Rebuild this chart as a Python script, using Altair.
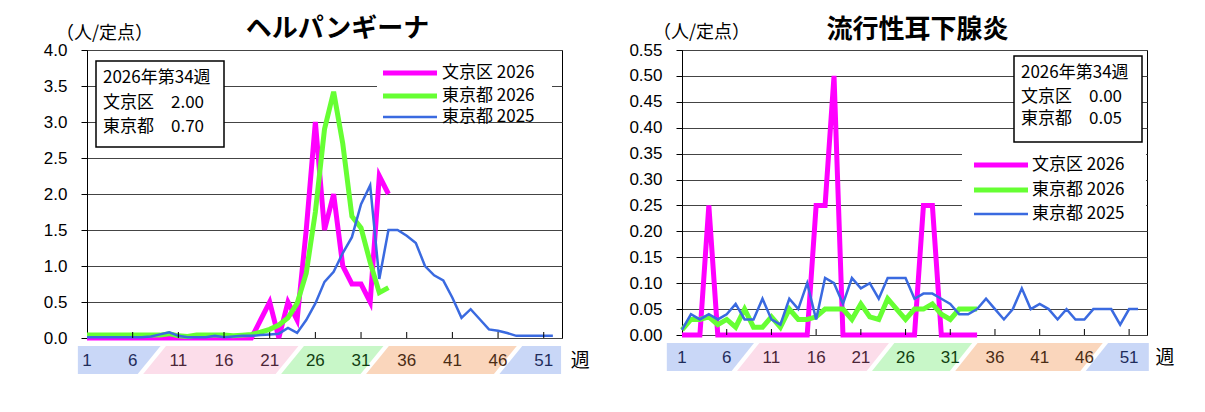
import altair as alt
import pandas as pd

# ---------------- data ----------------
WEEKS_2026 = list(range(1, 35))
WEEKS_2025 = list(range(1, 53))
SERIES = ["文京区 2026", "東京都 2026", "東京都 2025"]
SERIES_COLORS = ["#FF00FF", "#66FF33", "#3A6AE0"]
SERIES_WIDTHS = [5, 5, 2.5]

# ヘルパンギーナ
HERP_BUNKYO_2026 = [0, 0, 0, 0, 0, 0, 0, 0, 0, 0, 0, 0, 0, 0, 0, 0, 0, 0,
                    0, 0.25, 0.5, 0, 0.5, 0.25, 1.5, 3.0, 1.5, 2.0, 1.0, 0.75,
                    0.75, 0.5, 2.25, 2.0]
HERP_TOKYO_2026 = [0.04, 0.04, 0.04, 0.04, 0.04, 0.04, 0.04, 0.04, 0.04, 0.06,
                   0.03, 0.02, 0.04, 0.04, 0.04, 0.04, 0.03, 0.04, 0.05, 0.08,
                   0.12, 0.18, 0.28, 0.48, 0.90, 1.75, 2.90, 3.42, 2.70, 1.69,
                   1.53, 1.05, 0.63, 0.70]
HERP_TOKYO_2025 = [0.01, 0.01, 0.01, 0.01, 0.01, 0.01, 0.01, 0.02, 0.05, 0.08,
                   0.03, 0.01, 0.01, 0.01, 0.03, 0.01, 0.02, 0.03, 0.03, 0.04,
                   0.05, 0.06, 0.14, 0.07, 0.25, 0.48, 0.78, 0.92, 1.18, 1.40,
                   1.86, 2.12, 0.82, 1.50, 1.50, 1.42, 1.32, 1.00, 0.87, 0.80,
                   0.56, 0.28, 0.40, 0.26, 0.12, 0.10, 0.07, 0.03, 0.03, 0.03,
                   0.03, 0.03]

# 流行性耳下腺炎
MUMPS_BUNKYO_2026 = [0, 0, 0, 0.25, 0, 0, 0, 0, 0, 0, 0, 0, 0, 0, 0,
                     0.25, 0.25, 0.5, 0, 0, 0, 0, 0, 0, 0, 0, 0, 0.25, 0.25, 0,
                     0, 0, 0, 0]
MUMPS_TOKYO_2026 = [0.01, 0.03, 0.03, 0.035, 0.02, 0.03, 0.015, 0.05, 0.015, 0.015,
                    0.035, 0.015, 0.05, 0.03, 0.03, 0.035, 0.05, 0.05, 0.05, 0.03,
                    0.06, 0.035, 0.03, 0.07, 0.05, 0.03, 0.05, 0.05, 0.06, 0.04,
                    0.03, 0.05, 0.05, 0.05]
MUMPS_TOKYO_2025 = [0.01, 0.04, 0.03, 0.04, 0.03, 0.04, 0.06, 0.03, 0.03, 0.07,
                    0.03, 0.02, 0.07, 0.05, 0.10, 0.03, 0.11, 0.10, 0.06, 0.11,
                    0.09, 0.10, 0.07, 0.11, 0.11, 0.11, 0.07, 0.08, 0.08, 0.07,
                    0.06, 0.04, 0.04, 0.05, 0.07, 0.05, 0.03, 0.05, 0.09, 0.05,
                    0.06, 0.05, 0.03, 0.05, 0.03, 0.03, 0.05, 0.05, 0.05, 0.02,
                    0.05, 0.05]

CURRENT_WEEK = 34
LABEL_WEEKS = [1, 6, 11, 16, 21, 26, 31, 36, 41, 46, 51]
SEASON_BOUNDS = [8.1, 23.2, 32.5, 47.1]          # week where season band changes
SEASON_FILLS = ["#C9D7F7", "#FCDDEA", "#C8F7C8", "#FAD6BC", "#C9D7F7"]
SEASON_TEXT = ["#1F2D5C", "#4B2638", "#123F12", "#4A2C14", "#1F2D5C"]

JP = "Noto Sans CJK JP"
NUM = "Liberation Sans"


def long_df(bunkyo, tokyo26, tokyo25):
    rows = []
    for w, v in zip(WEEKS_2026, bunkyo):
        rows.append({"week": w, "value": v, "series": SERIES[0]})
    for w, v in zip(WEEKS_2026, tokyo26):
        rows.append({"week": w, "value": v, "series": SERIES[1]})
    for w, v in zip(WEEKS_2025, tokyo25):
        rows.append({"week": w, "value": v, "series": SERIES[2]})
    return pd.DataFrame(rows)


def band_df(start, end, slant=1.25, gap=0.3):
    rows = []
    n = len(SEASON_FILLS)
    for i in range(n):
        for sy, sgn in ((0, -1), (1, 1)):
            xl = start if i == 0 else SEASON_BOUNDS[i - 1] + sgn * slant + gap
            xr = end if i == n - 1 else SEASON_BOUNDS[i] + sgn * slant - gap
            rows.append({"band": i, "sy": sy, "xl": xl, "xr": xr, "fill": SEASON_FILLS[i]})
    return pd.DataFrame(rows)


def label_df():
    rows = []
    for w in LABEL_WEEKS:
        idx = sum(1 for b in SEASON_BOUNDS if b < w)
        rows.append({"week": w, "label": str(w), "tc": SEASON_TEXT[idx]})
    return pd.DataFrame(rows)


def panel(df, c):
    W, H = c["W"], c["H"]
    xs = alt.Scale(domain=[1, 53], nice=False, zero=False)
    ys = alt.Scale(domain=[0, c["ymax"]], nice=False, zero=True)
    color = alt.Color("series:N", scale=alt.Scale(domain=SERIES, range=SERIES_COLORS), legend=None)
    yaxis = alt.Axis(values=c["yticks"], format=c["yfmt"], title="（人/定点）", titleAngle=0,
                     titleAlign="center", titleBaseline="middle", titleX=c["unitx"],
                     titleY=c["unity"], titleFont=JP, titleFontSize=18,
                     titleFontWeight="normal", titleColor="black")
    layers = []
    for s, w in zip(SERIES, SERIES_WIDTHS):
        layers.append(
            alt.Chart(df).transform_filter(alt.datum.series == s).mark_line(strokeWidth=w).encode(
                x=alt.X("week:Q", scale=xs, axis=None),
                y=alt.Y("value:Q", scale=ys, axis=yaxis),
                color=color))

    ticks = alt.Chart(pd.DataFrame({"week": LABEL_WEEKS[1:]})).mark_rule(
        color="black", strokeWidth=1).encode(
        x=alt.X("week:Q", scale=xs, axis=None), y=alt.value(H), y2=alt.value(H - 6))

    one = pd.DataFrame({"k": [0]})

    # legend (white panel + line samples + labels)
    lb = c["legbox"]
    leg_layers = [alt.Chart(one).mark_rect(fill="white", strokeWidth=0).encode(
        x=alt.value(lb[0]), x2=alt.value(lb[2]), y=alt.value(lb[1]), y2=alt.value(lb[3]))]
    lx0, lx1, ltx = c["legx"]
    for i, (s, col, w) in enumerate(zip(SERIES, SERIES_COLORS, SERIES_WIDTHS)):
        yy = c["legy"][i]
        leg_layers.append(alt.Chart(one).mark_rule(color=col, strokeWidth=w).encode(
            x=alt.value(lx0), x2=alt.value(lx1), y=alt.value(yy)))
        leg_layers.append(alt.Chart(one).mark_text(text=s, align="left", baseline="middle",
                                                   font=JP, fontSize=17, color="black").encode(
            x=alt.value(ltx), y=alt.value(yy)))

    # info box
    bx1, by1, bx2, by2 = c["box"]
    box = alt.Chart(one).mark_rect(fill="white", stroke="black", strokeWidth=1.5).encode(
        x=alt.value(bx1), x2=alt.value(bx2), y=alt.value(by1), y2=alt.value(by2))
    b_last = df[df.series == SERIES[0]].value.iloc[-1]
    t_last = df[df.series == SERIES[1]].value.iloc[-1]
    tx, vx = c["textx"]
    ly = c["texty"]
    texts = []
    for txt, x, y in ((f"2026年第{CURRENT_WEEK}週", tx, ly[0]),
                      ("文京区", tx, ly[1]), (f"{b_last:.2f}", vx, ly[1]),
                      ("東京都", tx, ly[2]), (f"{t_last:.2f}", vx, ly[2])):
        texts.append(alt.Chart(one).mark_text(text=txt, align="left", baseline="middle",
                                              font=JP, fontSize=17, color="black").encode(
            x=alt.value(x), y=alt.value(y)))
    title = alt.Chart(one).mark_text(text=c["title"], align="center", baseline="middle",
                                     font=JP, fontSize=26, fontWeight="bold",
                                     color="black").encode(
        x=alt.value(W / 2 + c["tdx"]), y=alt.value(c["tdy"]))

    inner = alt.layer(*layers, ticks, *leg_layers, box, *texts, title)

    strip = alt.Chart(band_df(c["sstart"], c["send"])).mark_area(orient="horizontal").encode(
        y=alt.Y("sy:Q", scale=alt.Scale(domain=[0, 1], range=[H + 36, H + 8]), axis=None),
        x=alt.X("xl:Q", scale=xs, axis=None), x2=alt.X2("xr:Q"),
        fill=alt.Fill("fill:N", scale=None), detail="band:N")
    labels = alt.Chart(label_df()).mark_text(font=NUM, fontSize=17, align="center",
                                             baseline="middle").encode(
        x=alt.X("week:Q", scale=xs, axis=None), y=alt.value(H + 23),
        text="label:N", fill=alt.Fill("tc:N", scale=None))
    wk = alt.Chart(pd.DataFrame({"week": [55]})).mark_text(
        text="週", font=JP, fontSize=19, color="black", align="center",
        baseline="middle").encode(x=alt.X("week:Q", scale=xs, axis=None), y=alt.value(H + 23))

    return alt.layer(inner, strip, labels, wk).resolve_scale(y="independent").properties(
        width=W, height=H)


left = panel(long_df(HERP_BUNKYO_2026, HERP_TOKYO_2026, HERP_TOKYO_2025), dict(
    W=475, H=288, ymax=4.0, yticks=[0, 0.5, 1.0, 1.5, 2.0, 2.5, 3.0, 3.5, 4.0], yfmt=".1f",
    title="ヘルパンギーナ", tdx=13, tdy=-21, unitx=17, unity=-17,
    box=(9, 11, 137, 97), textx=(16, 84), texty=(28, 53, 77),
    legbox=(290, 12, 465, 71), legx=(296, 350, 355), legy=(23, 46, 67),
    sstart=0.0, send=52.9))

right = panel(long_df(MUMPS_BUNKYO_2026, MUMPS_TOKYO_2026, MUMPS_TOKYO_2025), dict(
    W=465, H=285, ymax=0.55,
    yticks=[0, 0.05, 0.1, 0.15, 0.2, 0.25, 0.3, 0.35, 0.4, 0.45, 0.5, 0.55], yfmt=".2f",
    title="流行性耳下腺炎", tdx=3, tdy=-20, unitx=19, unity=-18,
    box=(332, 6, 460, 92), textx=(339, 407), texty=(23, 47, 69),
    legbox=(280, 100, 464, 177), legx=(292, 346, 350), legy=(115, 140, 164),
    sstart=-0.7, send=53.2))

chart = alt.hconcat(left, right, spacing=37).properties(
    padding={"left": 34, "top": 7, "right": 5, "bottom": 5}
).configure_view(stroke="black", strokeWidth=1).configure_axis(
    labelFont=NUM, labelFontSize=17, labelColor="black", domainColor="black",
    domainWidth=1, tickColor="black", tickSize=6, labelPadding=14,
    gridColor="#444444", gridWidth=1)

chart.save("out.html", embed_options={"renderer": "svg", "actions": False})
